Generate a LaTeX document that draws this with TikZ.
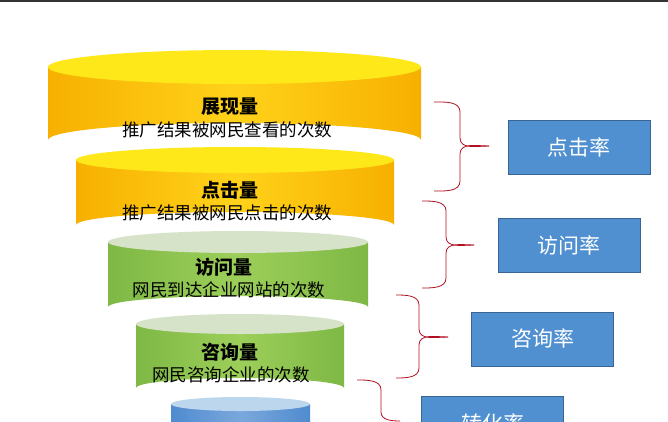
\documentclass[tikz,border=0pt]{standalone}
\usepackage{fontspec}
\newfontfamily\cjk{Noto Sans CJK SC}
\usetikzlibrary{calc}
\definecolor{yelA}{HTML}{F7B000}
\definecolor{yelB}{HTML}{FFD21A}
\definecolor{yelTop}{HTML}{FFE81A}
\definecolor{grA}{HTML}{7FB845}
\definecolor{grB}{HTML}{9CCF5A}
\definecolor{grTop}{HTML}{D6E3C8}
\definecolor{blA}{HTML}{4F8BD0}
\definecolor{blTop}{HTML}{BCD6EE}
\definecolor{boxblue}{HTML}{5090D0}
\definecolor{brace}{HTML}{B01020}
\newcommand\mycyl[8]{% cx, x half width, ytop, ybot, ry, colA, colB, topcol
  \shade[left color=#6,right color=#6,middle color=#7] (#1-#2,#3) -- (#1-#2,#4) arc[start angle=180,end angle=360,x radius=#2,y radius=#5] -- (#1+#2,#3) -- cycle;
  \fill[#8] (#1,#3) ellipse[x radius=#2,y radius=#5];
}
\tikzset{
  ttl/.style={font=\cjk\bfseries\fontsize{19}{21}\selectfont,text=black},
  sub/.style={font=\cjk\fontsize{17.5}{19}\selectfont,text=black},
  ratebox/.style={draw=boxblue!70!black,fill=boxblue,minimum width=142pt,minimum height=54pt,text=white,font=\cjk\fontsize{21}{24}\selectfont,inner sep=0pt},
  br/.style={draw=brace,line width=0.8pt}
}
\begin{document}
\begin{tikzpicture}[x=1pt,y=-1pt]
\useasboundingbox (0,0) rectangle (668,421);
\fill[white] (0,0) rectangle (668,421);
\draw[line width=2pt,black!80] (0,0.5) -- (668,0.5);
\begin{scope}
\clip (0,0) rectangle (668,421);
\mycyl{240.5}{69.5}{404}{440}{7}{blA}{blA!75}{blTop}
\mycyl{240}{104}{324}{388}{10}{grA}{grB}{grTop}
\mycyl{238}{130}{242}{307}{11}{grA}{grB}{grTop}
\mycyl{235}{159}{160}{225}{13}{yelA}{yelB}{yelTop}
\mycyl{234.5}{186.5}{67}{140}{17}{yelA}{yelB}{yelTop}
\end{scope}
\node[ttl] (t1) at (230,107) {展现量};
\node[sub] (s1) at (227,130) {推广结果被网民查看的次数};
\node[ttl] (t2) at (230,190) {点击量};
\node[sub] (s2) at (227,213) {推广结果被网民点击的次数};
\node[ttl] (t3) at (224,267) {访问量};
\node[sub] (s3) at (229,290) {网民到达企业网站的次数};
\node[ttl] (t4) at (230,352) {咨询量};
\node[sub] (s4) at (231,375) {网民咨询企业的次数};
\node[ratebox] (r1) at (579,147) {点击率};
\node[ratebox] (r2) at (569,245.5) {访问率};
\node[ratebox] (r3) at (542.5,339) {咨询率};
\node[ratebox,anchor=north] (r4) at (492.5,396) {转化率};
\coordinate (b1) at (489,146);
\coordinate (b2) at (474,245);
\coordinate (b3) at (448,337);
\draw[br] (434,102) to[out=0,in=90] (460,112) -- (460,138) to[out=270,in=180] (b1);
\draw[br] (b1) to[out=180,in=90] (460,154) -- (460,181) to[out=270,in=0] (434,191);
\draw[br] (422,201) to[out=0,in=90] (446,211) -- (446,237) to[out=270,in=180] (b2);
\draw[br] (b2) to[out=180,in=90] (446,253) -- (446,278) to[out=270,in=0] (422,288);
\draw[br] (396,295) to[out=0,in=90] (419,305) -- (419,329) to[out=270,in=180] (b3);
\draw[br] (b3) to[out=180,in=90] (419,345) -- (419,368) to[out=270,in=0] (396,378);
\draw[br] (357,380) to[out=0,in=90] (381,390) -- (381,412) to[out=270,in=180] (400,421);
\end{tikzpicture}
\end{document}
